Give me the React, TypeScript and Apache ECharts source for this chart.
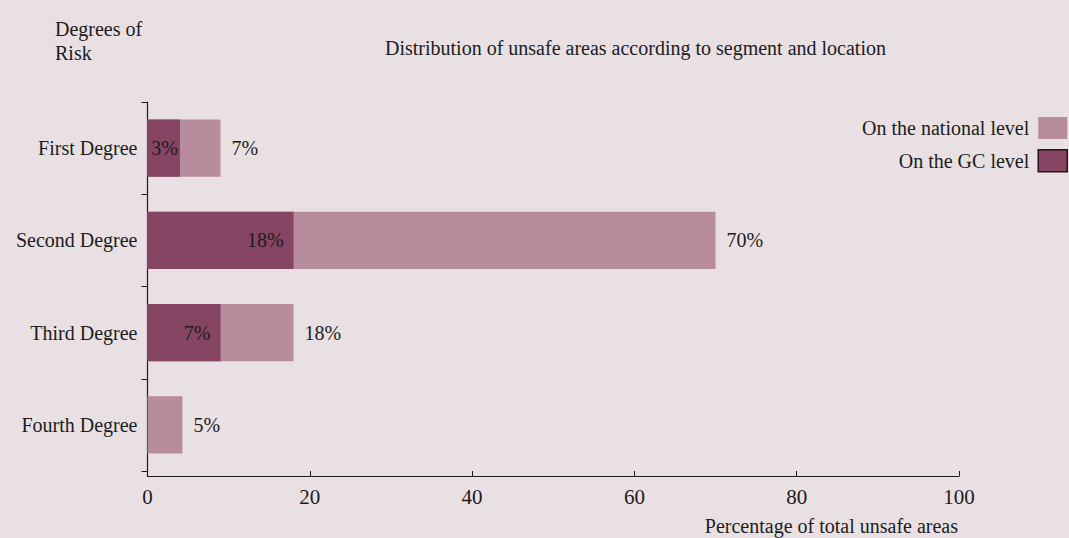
import React, { useEffect, useRef } from "react";
import * as echarts from "echarts";

const categories = ["First Degree", "Second Degree", "Third Degree", "Fourth Degree"];
const nationalValues = [9, 70, 18, 4.3];
const nationalLabels = ["7%", "70%", "18%", "5%"];
const gcValues = [4, 18, 9, null];
const gcLabels = ["3%", "18%", "7%", ""];
const xTicks = { min: 0, max: 100, interval: 20 };

const FONT = "'Liberation Serif', 'DejaVu Serif', serif";
const TEXT = "#1c1c1c";
const BG = "#e9e0e4";
const NAT = "#b78c9d";
const GC = "#854563";

export default function App() {
  const ref = useRef<HTMLDivElement>(null);
  useEffect(() => {
    const chart = echarts.init(ref.current!, undefined, { renderer: "svg" });
    const option: any = {
      animation: false,
      backgroundColor: BG,
      textStyle: { fontFamily: FONT, color: TEXT },
      grid: { left: 147.5, right: 110, top: 102, bottom: 67, containLabel: false },
      legend: {
        right: 1,
        top: 117,
        padding: 0,
        orient: "vertical",
        align: "right",
        icon: "rect",
        itemWidth: 29,
        itemHeight: 22,
        itemGap: 10,
        textStyle: { fontFamily: FONT, fontSize: 20, color: TEXT, padding: [0, 4, 0, 0] },
        data: [
          { name: "On the national level", itemStyle: { color: NAT, borderWidth: 0 } },
          { name: "On the GC level", itemStyle: { color: GC, borderColor: "#2a1420", borderWidth: 1.5 } },
        ],
      },
      xAxis: {
        type: "value",
        min: xTicks.min,
        max: xTicks.max,
        interval: xTicks.interval,
        offset: 5,
        axisLine: { show: true, lineStyle: { color: TEXT, width: 1.2 } },
        axisTick: { show: true, inside: true, length: 5, lineStyle: { color: TEXT } },
        splitLine: { show: false },
        axisLabel: { fontFamily: FONT, fontSize: 21, color: TEXT, margin: 10 },
      },
      yAxis: {
        type: "category",
        inverse: true,
        data: categories,
        axisLine: { show: true, lineStyle: { color: TEXT, width: 1.2 } },
        axisTick: { show: true, length: 6, lineStyle: { color: TEXT } },
        axisLabel: { fontFamily: FONT, fontSize: 20, color: TEXT, margin: 10 },
      },
      graphic: [
        { type: "line", shape: { x1: 147.5, y1: 471, x2: 147.5, y2: 476 }, style: { stroke: TEXT, lineWidth: 1.2 } },
        { type: "text", left: 55, top: 17, style: { text: "Degrees of\nRisk", font: `20px ${FONT}`, fill: TEXT, lineHeight: 24 } },
        { type: "text", left: 385, top: 38, style: { text: "Distribution of unsafe areas according to segment and location", font: `20px ${FONT}`, fill: TEXT } },
        { type: "text", right: 111, top: 516, style: { text: "Percentage of total unsafe areas", font: `20px ${FONT}`, fill: TEXT } },
      ],
      series: [
        {
          name: "On the national level",
          type: "bar",
          barWidth: "62%",
          itemStyle: { color: NAT },
          data: nationalValues.map((v, i) => ({
            value: v,
            label: { show: true, position: "right", distance: 11, formatter: nationalLabels[i], fontFamily: FONT, fontSize: 20, color: TEXT },
          })),
        },
        {
          name: "On the GC level",
          type: "bar",
          barWidth: "62%",
          barGap: "-100%",
          itemStyle: { color: GC },
          data: gcValues.map((v, i) => ({
            value: v,
            label: { show: !!gcLabels[i], position: "insideRight", distance: i === 0 ? 2 : 10, formatter: gcLabels[i], fontFamily: FONT, fontSize: 20, color: TEXT },
          })),
        },
      ],
    };
    chart.setOption(option);
    return () => chart.dispose();
  }, []);
  return <div ref={ref} style={{ position: "absolute", left: 0, top: 0, width: 1069, height: 538 }} />;
}
